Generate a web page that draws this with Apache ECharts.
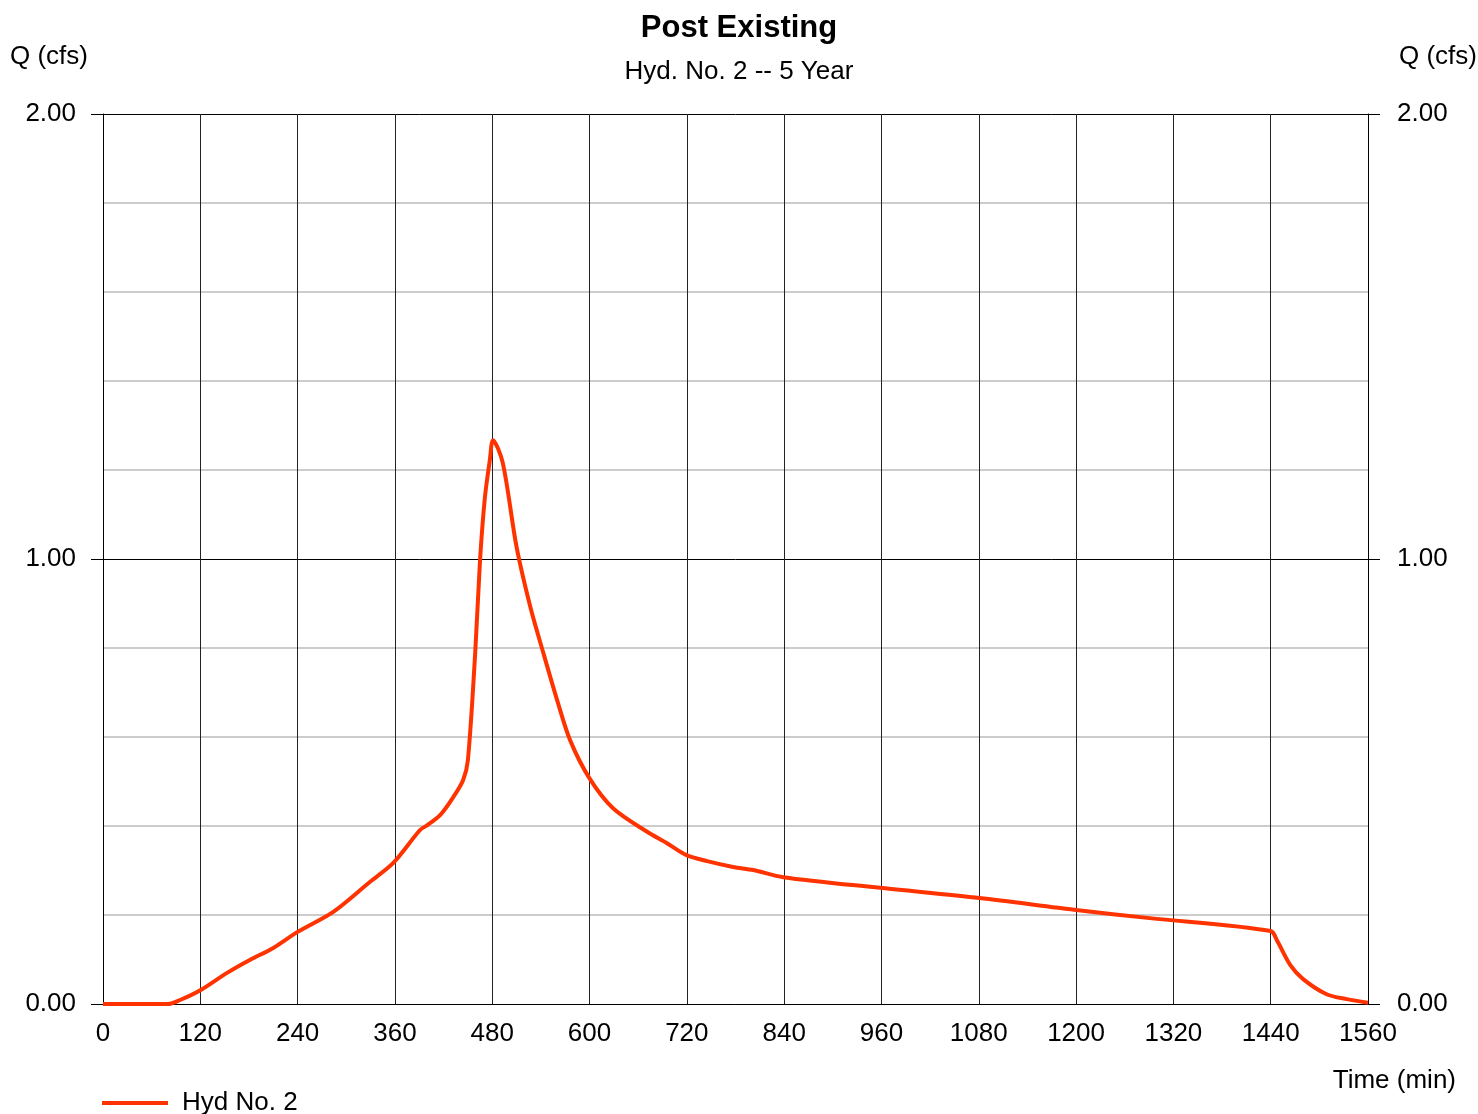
<!DOCTYPE html>
<html><head><meta charset="utf-8">
<script src="https://cdn.jsdelivr.net/npm/echarts@6/dist/echarts.min.js"></script>
<style>html,body{margin:0;padding:0;background:#fff}#c{width:1478px;height:1114px}</style>
</head><body><div id="c"></div>
<script>
const times = [0, 40, 80, 95, 120, 153, 181, 210, 240, 284, 329, 358, 391, 400, 416, 432, 444, 450, 459, 465, 471, 477, 481, 493, 510, 527, 543, 560, 576, 600, 629, 671, 695, 719, 745, 777, 802, 839, 958, 1081, 1200, 1291, 1440, 1448, 1464, 1480, 1509, 1534, 1560];
const flows = [0, 0, 0, 0.009, 0.031, 0.07, 0.099, 0.126, 0.162, 0.207, 0.274, 0.317, 0.391, 0.402, 0.425, 0.465, 0.503, 0.548, 0.789, 0.998, 1.139, 1.222, 1.267, 1.216, 1.027, 0.892, 0.789, 0.683, 0.593, 0.507, 0.44, 0.387, 0.362, 0.335, 0.321, 0.308, 0.301, 0.285, 0.261, 0.238, 0.211, 0.193, 0.164, 0.142, 0.088, 0.056, 0.022, 0.011, 0.003];
const xTicks = [0, 120, 240, 360, 480, 600, 720, 840, 960, 1080, 1200, 1320, 1440, 1560];
const yTicks = [0, 1, 2];
const seriesName = 'Hyd No. 2';

const data = times.map((t, i) => [t, flows[i]]);
const font = 'Liberation Sans, Arial, sans-serif';
const chart = echarts.init(document.getElementById('c'));
const yBase = {
  type: 'value', min: yTicks[0], max: yTicks[yTicks.length - 1], interval: 1,
  axisLine: { show: true, lineStyle: { color: '#000', width: 1 } },
  axisTick: { show: true, length: 12, inside: false, lineStyle: { color: '#000' } },
  axisLabel: { color: '#000', fontSize: 26, fontFamily: font, formatter: v => v.toFixed(2) },
  minorTick: { show: false, splitNumber: 5 }
};
const plain = { fontSize: 26, fontWeight: 'normal', fontFamily: font, color: '#000' };
chart.setOption({
  animation: false,
  backgroundColor: '#fff',
  title: [
    { text: 'Post Existing', left: 'center', top: 8, textStyle: { fontSize: 31, fontWeight: 'bold', fontFamily: font, color: '#000' } },
    { text: 'Hyd. No. 2 -- 5 Year', left: 'center', top: 54, textStyle: plain },
    { text: 'Q (cfs)', left: 5, top: 39, textStyle: plain },
    { text: 'Q (cfs)', right: -4, top: 39, textStyle: plain },
    { text: 'Time (min)', right: 17, top: 1063, textStyle: plain }
  ],
  legend: {
    left: 97, top: 1085, icon: 'rect', itemWidth: 66, itemHeight: 4,
    data: [seriesName],
    textStyle: { fontSize: 26, fontFamily: font, color: '#000', padding: [0, 0, 0, 9] }
  },
  grid: { left: 103, right: 110, top: 114, bottom: 110, containLabel: false },
  xAxis: {
    type: 'value', min: 0, max: 1560, interval: 120,
    axisLine: { show: true, lineStyle: { color: '#000' } },
    axisTick: { show: false },
    axisLabel: { color: '#000', fontSize: 26, fontFamily: font, margin: 17, formatter: v => String(v) },
    splitLine: { show: true, lineStyle: { color: '#222', width: 1 } }
  },
  yAxis: [
    Object.assign({}, yBase, {
      position: 'left',
      axisLabel: Object.assign({}, yBase.axisLabel, { margin: 27 }),
      splitLine: { show: true, lineStyle: { color: '#000', width: 1 } },
      minorSplitLine: { show: true, lineStyle: { color: '#cccccc', width: 2 } }
    }),
    Object.assign({}, yBase, {
      position: 'right',
      axisLabel: Object.assign({}, yBase.axisLabel, { margin: 29 }),
      splitLine: { show: false }
    })
  ],
  series: [{
    name: seriesName, type: 'line', data: data, yAxisIndex: 0,
    showSymbol: false, smooth: 0.3,
    lineStyle: { color: '#ff3300', width: 4 }, itemStyle: { color: '#ff3300' }, z: 5
  }]
});
</script></body></html>
